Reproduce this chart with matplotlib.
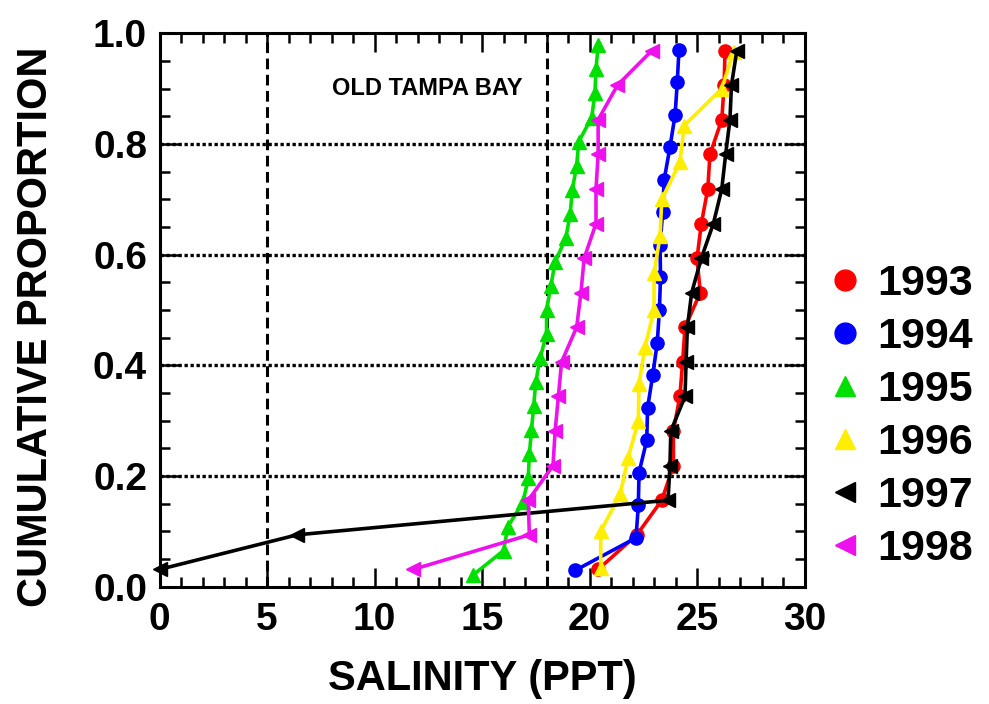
import matplotlib
matplotlib.use("Agg")
import matplotlib.pyplot as plt
from matplotlib.lines import Line2D
from matplotlib.ticker import MultipleLocator

plt.rcParams['font.family'] = ['Liberation Sans', 'DejaVu Sans']
plt.rcParams['font.weight'] = 'bold'
plt.rcParams['axes.labelweight'] = 'bold'

# salinity (ppt), sorted
years = ['1993', '1994', '1995', '1996', '1997', '1998']
sal_1993 = [20.4, 22.2, 23.36, 23.9, 23.9, 24.2, 24.33, 24.44, 25.15, 25.0,
            25.2, 25.5, 25.6, 26.15, 26.26, 26.3]
sal_1994 = [19.33, 22.16, 22.27, 22.3, 22.66, 22.7, 22.94, 23.15, 23.25, 23.3,
            23.28, 23.4, 23.47, 23.74, 23.98, 24.08, 24.16]
sal_1995 = [14.6, 16.0, 16.2, 16.9, 17.15, 17.2, 17.3, 17.4, 17.5, 17.7, 18.0,
            18.0, 18.2, 18.4, 18.9, 19.1, 19.2, 19.4, 19.5, 20.1, 20.25, 20.3, 20.4]
sal_1996 = [20.52, 20.52, 21.42, 21.8, 22.27, 22.3, 22.58, 23.0, 23.0, 23.28,
            23.36, 24.2, 24.4, 26.15, 26.7]
sal_1997 = [0.0, 6.4, 23.65, 23.74, 23.78, 24.44, 24.49, 24.55, 24.75, 25.2,
            25.76, 26.15, 26.33, 26.53, 26.6, 26.85]
sal_1998 = [11.8, 17.2, 17.15, 18.3, 18.4, 18.55, 18.7, 19.4, 19.6, 19.75,
            20.3, 20.3, 20.4, 20.4, 21.3, 22.9]
series = [sal_1993, sal_1994, sal_1995, sal_1996, sal_1997, sal_1998]

colors = ['#ff0000', '#0000ff', '#00e000', '#ffee00', '#000000', '#ee11ee']
markers = ['o', 'o', '^', '^', '<', '<']
ref_lines = [5, 18]
grid_levels = [0.2, 0.4, 0.6, 0.8]


def cum_prop(n):
    # plotting positions of an empirical cdf
    return [(i + 0.5) / n for i in range(n)]


fig = plt.figure(figsize=(9.89, 7.04), dpi=100)
ax = fig.add_axes([0.1613, 0.1666, 0.6522, 0.7861])

for y in grid_levels:
    ax.axhline(y, color='black', lw=2.4, ls=(0, (1, 0.8)), zorder=1)
for x in ref_lines:
    ax.axvline(x, color='black', lw=2.2, ls=(0, (3.5, 1.8)), zorder=1)

for sal, c, m in zip(series, colors, markers):
    ax.plot(sal, cum_prop(len(sal)), color=c, marker=m, ms=9.5, lw=2.6,
            mec=c, mfc=c, zorder=3, clip_on=False)

ax.text(12.45, 0.9, 'OLD TAMPA BAY', fontsize=17, ha='center', va='center')

ax.set_xlim(0, 30)
ax.set_ylim(0, 1.0)
ax.xaxis.set_major_locator(MultipleLocator(5))
ax.xaxis.set_minor_locator(MultipleLocator(1))
ax.yaxis.set_major_locator(MultipleLocator(0.2))
ax.yaxis.set_minor_locator(MultipleLocator(0.05))
ax.set_yticklabels([f'{v:.1f}' for v in ax.get_yticks()])
ax.tick_params(which='both', direction='in', top=True, right=True, width=1.8)
ax.tick_params(which='major', length=14, labelsize=28)
ax.tick_params(which='minor', length=7)
ax.tick_params(axis='x', pad=11)
ax.tick_params(axis='y', pad=9)
for sp in ax.spines.values():
    sp.set_linewidth(2.2)

ax.set_xlabel('SALINITY (PPT)', fontsize=30, labelpad=15)
ax.set_ylabel('CUMULATIVE PROPORTION', fontsize=30)
ax.yaxis.set_label_coords(-0.16, 0.47)

handles = [Line2D([], [], ls='none', marker=m, color=c, ms=15)
           for c, m in zip(colors, markers)]
fig.legend(handles, years, loc='upper left', bbox_to_anchor=(0.835, 0.625),
           frameon=False, fontsize=31, handlelength=0.9, handletextpad=0.3,
           labelspacing=0.3, borderpad=0, borderaxespad=0)

fig.savefig('out.png', dpi=100)
